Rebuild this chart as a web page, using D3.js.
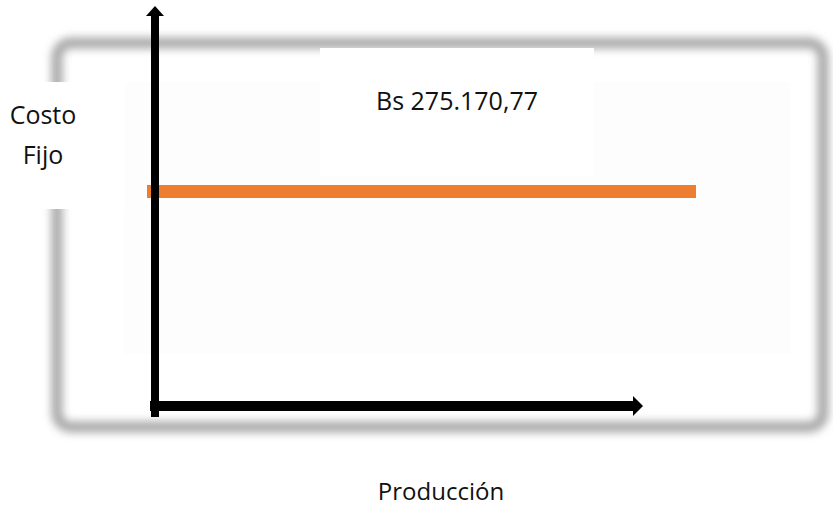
<!doctype html>
<html lang="es">
  <head>
    <meta charset="utf-8">
    <title>Costo Fijo</title>
    <style>
      body { margin: 0; background: #fff; }
      svg { display: block; }
      text { font-family: "Open Sans", sans-serif; fill: #111; }
    </style>
  </head>
  <body>
    <div id="chart"></div>
    <script src="https://cdn.jsdelivr.net/npm/d3@7"></script>
    <script>
      // fixed cost: same value at every production level
      const produccion = [0, 100]
      const costoFijo = [275170.77, 275170.77]
      const costoLabel = 'Bs 275.170,77'
      const yLabel = ['Costo', 'Fijo']
      const xLabel = 'Producción'

      const width = 833
      const height = 508

      const svg = d3.select('#chart')
        .append('svg')
        .attr('width', width)
        .attr('height', height)

      const defs = svg.append('defs')
      defs.append('filter')
        .attr('id', 'blur')
        .attr('x', '-10%').attr('y', '-10%')
        .attr('width', '120%').attr('height', '120%')
        .append('feGaussianBlur')
          .attr('stdDeviation', 4)

      // blurred frame of the pasted picture
      svg.append('rect')
        .attr('x', 57)
        .attr('y', 43)
        .attr('width', 766)
        .attr('height', 384)
        .attr('rx', 14)
        .attr('fill', 'none')
        .attr('stroke', '#a8a8a8')
        .attr('stroke-width', 11)
        .attr('filter', 'url(#blur)')

      // faint inner panel
      svg.append('rect')
        .attr('x', 123).attr('y', 82)
        .attr('width', 668).attr('height', 272)
        .attr('fill', '#fdfdfd')

      // white label boxes
      const boxes = [
        { x: 0, y: 82, w: 125, h: 127 },
        { x: 320, y: 48, w: 274, h: 128 },
        { x: 344, y: 441, w: 192, h: 67 }
      ]
      svg.selectAll('rect.box')
        .data(boxes)
        .enter()
        .append('rect')
          .attr('class', 'box')
          .attr('x', d => d.x)
          .attr('y', d => d.y)
          .attr('width', d => d.w)
          .attr('height', d => d.h)
          .attr('fill', '#fff')

      const yMax = 513000
      const x = d3.scaleLinear().domain(d3.extent(produccion)).range([147, 696])
      const y = d3.scaleLinear().domain([0, yMax]).range([406, 6])

      // orange fixed-cost line
      const line = d3.line()
        .x((d, i) => x(produccion[i]))
        .y(d => y(d))
      svg.append('path')
        .datum(costoFijo)
        .attr('d', line)
        .attr('fill', 'none')
        .attr('stroke', '#ED7D31')
        .attr('stroke-width', 13)

      // axes: thick black arrows
      const x0 = 155
      const y0 = y(0)
      const yTop = y(yMax)
      const xEnd = 643

      svg.append('line')
        .attr('x1', x0).attr('y1', y0 + 11)
        .attr('x2', x0).attr('y2', yTop + 9)
        .attr('stroke', '#000').attr('stroke-width', 8)
      svg.append('path')
        .attr('d', `M${x0 - 9},${yTop + 10}L${x0},${yTop}L${x0 + 9},${yTop + 10}Z`)
        .attr('fill', '#000')

      svg.append('line')
        .attr('x1', x0 - 5).attr('y1', y0)
        .attr('x2', xEnd - 9).attr('y2', y0)
        .attr('stroke', '#000').attr('stroke-width', 10)
      svg.append('path')
        .attr('d', `M${xEnd - 10},${y0 - 10}L${xEnd},${y0}L${xEnd - 10},${y0 + 10}Z`)
        .attr('fill', '#000')

      // labels
      svg.append('text')
        .attr('x', 457).attr('y', 110)
        .attr('text-anchor', 'middle')
        .attr('font-size', 25)
        .text(costoLabel)

      svg.selectAll('text.ylab')
        .data(yLabel)
        .enter()
        .append('text')
          .attr('class', 'ylab')
          .attr('x', 43)
          .attr('y', (d, i) => 124 + i * 40)
          .attr('text-anchor', 'middle')
          .attr('font-size', 25)
          .text(d => d)

      svg.append('text')
        .attr('x', 441).attr('y', 500)
        .attr('text-anchor', 'middle')
        .attr('font-size', 24)
        .text(xLabel)
    </script>
  </body>
</html>
